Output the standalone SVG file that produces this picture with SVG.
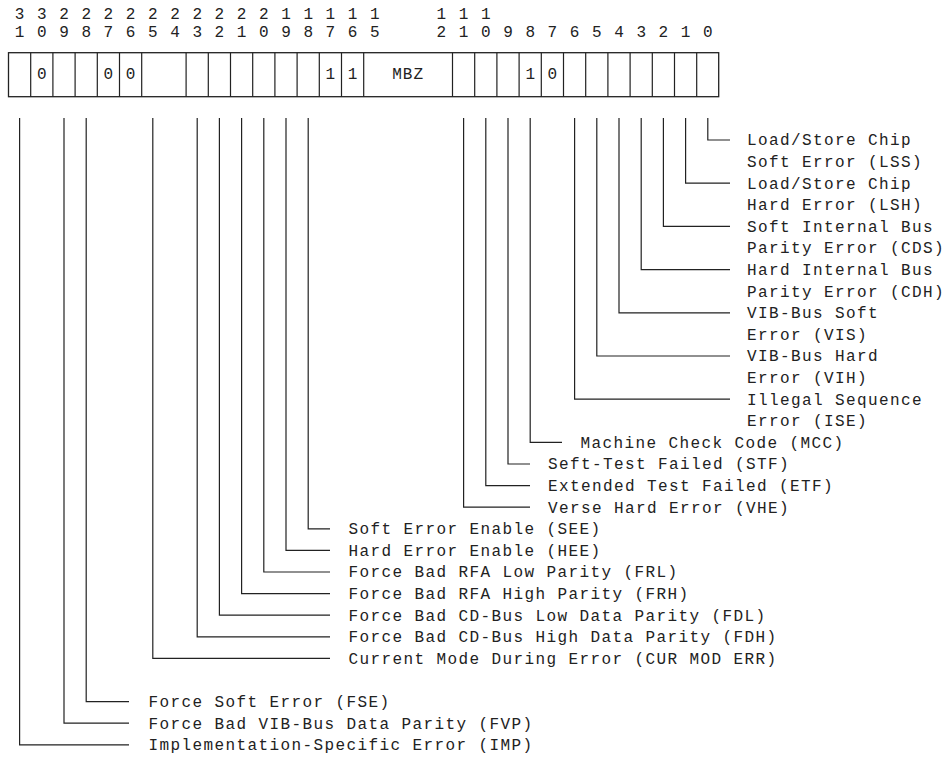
<svg xmlns="http://www.w3.org/2000/svg" width="948" height="759" viewBox="0 0 948 759">
<style>
text{font-family:"Liberation Mono","DejaVu Sans Mono",monospace;font-size:16px;fill:#222}
.l{letter-spacing:1.4px}
.c{text-anchor:middle}
.reg{fill:#fff;stroke:#222;stroke-width:1.3}
.div{stroke:#222;stroke-width:1.2}
.con path{fill:none;stroke:#222;stroke-width:1.2}
</style>
<rect width="948" height="759" fill="#fff"/>
<g id="bitnumbers" class="c">
<text x="19.6" y="18.6">3</text><text x="19.6" y="37.3">1</text>
<text x="41.8" y="18.6">3</text><text x="41.8" y="37.3">0</text>
<text x="64" y="18.6">2</text><text x="64" y="37.3">9</text>
<text x="86.2" y="18.6">2</text><text x="86.2" y="37.3">8</text>
<text x="108.4" y="18.6">2</text><text x="108.4" y="37.3">7</text>
<text x="130.6" y="18.6">2</text><text x="130.6" y="37.3">6</text>
<text x="152.8" y="18.6">2</text><text x="152.8" y="37.3">5</text>
<text x="175" y="18.6">2</text><text x="175" y="37.3">4</text>
<text x="197.2" y="18.6">2</text><text x="197.2" y="37.3">3</text>
<text x="219.4" y="18.6">2</text><text x="219.4" y="37.3">2</text>
<text x="241.6" y="18.6">2</text><text x="241.6" y="37.3">1</text>
<text x="263.8" y="18.6">2</text><text x="263.8" y="37.3">0</text>
<text x="286" y="18.6">1</text><text x="286" y="37.3">9</text>
<text x="308.2" y="18.6">1</text><text x="308.2" y="37.3">8</text>
<text x="330.4" y="18.6">1</text><text x="330.4" y="37.3">7</text>
<text x="352.6" y="18.6">1</text><text x="352.6" y="37.3">6</text>
<text x="374.8" y="18.6">1</text><text x="374.8" y="37.3">5</text>
<text x="441.4" y="18.6">1</text><text x="441.4" y="37.3">2</text>
<text x="463.6" y="18.6">1</text><text x="463.6" y="37.3">1</text>
<text x="485.8" y="18.6">1</text><text x="485.8" y="37.3">0</text>
<text x="508" y="37.3">9</text>
<text x="530.2" y="37.3">8</text>
<text x="552.4" y="37.3">7</text>
<text x="574.6" y="37.3">6</text>
<text x="596.8" y="37.3">5</text>
<text x="619" y="37.3">4</text>
<text x="641.2" y="37.3">3</text>
<text x="663.4" y="37.3">2</text>
<text x="685.6" y="37.3">1</text>
<text x="707.8" y="37.3">0</text>
</g>
<g id="register">
<rect class="reg" x="8.5" y="52.7" width="710.2" height="44"/>
<path class="div" d="M30.7 52.7V96.7M52.9 52.7V96.7M75.1 52.7V96.7M97.3 52.7V96.7M119.5 52.7V96.7M141.7 52.7V96.7M186.1 52.7V96.7M208.3 52.7V96.7M230.5 52.7V96.7M252.7 52.7V96.7M274.9 52.7V96.7M297.1 52.7V96.7M319.3 52.7V96.7M341.5 52.7V96.7M363.7 52.7V96.7M452.5 52.7V96.7M474.7 52.7V96.7M496.9 52.7V96.7M519.1 52.7V96.7M541.3 52.7V96.7M563.5 52.7V96.7M585.7 52.7V96.7M607.9 52.7V96.7M630.1 52.7V96.7M652.3 52.7V96.7M674.5 52.7V96.7M696.7 52.7V96.7"/>
<g class="c">
<text x="41.8" y="79.1">0</text>
<text x="108.4" y="79.1">0</text>
<text x="130.6" y="79.1">0</text>
<text x="330.4" y="79.1">1</text>
<text x="352.6" y="79.1">1</text>
<text x="408.1" y="79.1" style="letter-spacing:1px">MBZ</text>
<text x="530.2" y="79.1">1</text>
<text x="552.4" y="79.1">0</text>
</g>
</g>
<g id="connectors" class="con">
<path d="M707.8 118V140H730"/>
<path d="M685.6 118V183.2H730"/>
<path d="M663.4 118V226.4H730"/>
<path d="M641.2 118V269.6H730"/>
<path d="M619 118V312.8H730"/>
<path d="M596.8 118V356H730"/>
<path d="M574.6 118V399.2H730"/>
<path d="M530.2 118V442.4H562"/>
<path d="M508 118V464H530"/>
<path d="M485.8 118V485.6H530"/>
<path d="M463.6 118V507.2H530"/>
<path d="M308.2 118V528.8H330"/>
<path d="M286 118V550.4H330"/>
<path d="M263.8 118V572H330"/>
<path d="M241.6 118V593.6H330"/>
<path d="M219.4 118V615.2H330"/>
<path d="M197.2 118V636.8H330"/>
<path d="M152.8 118V658.4H330"/>
<path d="M86.2 118V701.6H129"/>
<path d="M64 118V723.2H129"/>
<path d="M19.6 118V744.8H129"/>
</g>
<g class="l">
<g id="lss"><text x="747" y="145.3">Load/Store Chip</text><text x="747" y="166.9">Soft Error (LSS)</text></g>
<g id="lsh"><text x="747" y="188.5">Load/Store Chip</text><text x="747" y="210.1">Hard Error (LSH)</text></g>
<g id="cds"><text x="747" y="231.7">Soft Internal Bus</text><text x="747" y="253.3">Parity Error (CDS)</text></g>
<g id="cdh"><text x="747" y="274.9">Hard Internal Bus</text><text x="747" y="296.5">Parity Error (CDH)</text></g>
<g id="vis"><text x="747" y="318.1">VIB-Bus Soft</text><text x="747" y="339.7">Error (VIS)</text></g>
<g id="vih"><text x="747" y="361.3">VIB-Bus Hard</text><text x="747" y="382.9">Error (VIH)</text></g>
<g id="ise"><text x="747" y="404.5">Illegal Sequence</text><text x="747" y="426.1">Error (ISE)</text></g>
<g id="mcc"><text x="580.5" y="447.7">Machine Check Code (MCC)</text></g>
<g id="stf"><text x="548" y="469.3">Seft-Test Failed (STF)</text></g>
<g id="etf"><text x="548" y="490.9">Extended Test Failed (ETF)</text></g>
<g id="vhe"><text x="548" y="512.5">Verse Hard Error (VHE)</text></g>
<g id="see"><text x="348.5" y="534.1">Soft Error Enable (SEE)</text></g>
<g id="hee"><text x="348.5" y="555.7">Hard Error Enable (HEE)</text></g>
<g id="frl"><text x="348.5" y="577.3">Force Bad RFA Low Parity (FRL)</text></g>
<g id="frh"><text x="348.5" y="598.9">Force Bad RFA High Parity (FRH)</text></g>
<g id="fdl"><text x="348.5" y="620.5">Force Bad CD-Bus Low Data Parity (FDL)</text></g>
<g id="fdh"><text x="348.5" y="642.1">Force Bad CD-Bus High Data Parity (FDH)</text></g>
<g id="curmod"><text x="348.5" y="663.7">Current Mode During Error (CUR MOD ERR)</text></g>
<g id="fse"><text x="148.5" y="706.9">Force Soft Error (FSE)</text></g>
<g id="fvp"><text x="148.5" y="728.5">Force Bad VIB-Bus Data Parity (FVP)</text></g>
<g id="imp"><text x="148.5" y="750.1">Implementation-Specific Error (IMP)</text></g>
</g>
</svg>
